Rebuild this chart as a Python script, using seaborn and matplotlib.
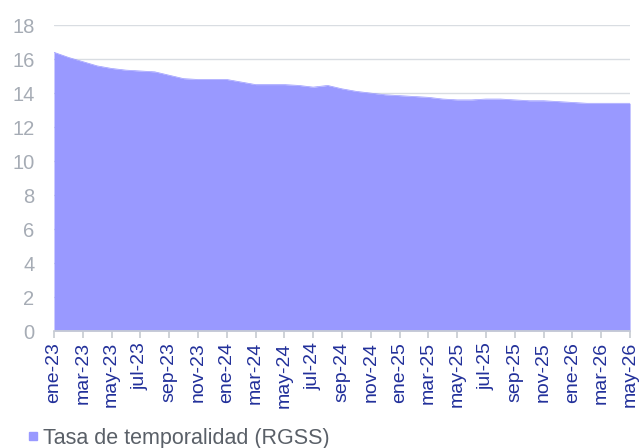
import pandas as pd
import seaborn as sns
import matplotlib.pyplot as plt
from matplotlib.lines import Line2D

meses = ['ene', 'feb', 'mar', 'abr', 'may', 'jun', 'jul', 'ago', 'sep', 'oct', 'nov', 'dic']
fechas = [f'{meses[i % 12]}-{23 + i // 12}' for i in range(41)]  # ene-23 .. may-26

# Tasa de temporalidad (RGSS), %
tasa = [16.4, 16.1, 15.85, 15.6, 15.45, 15.35, 15.3, 15.25, 15.05, 14.85,
        14.8, 14.8, 14.8, 14.65, 14.5, 14.5, 14.5, 14.45, 14.35, 14.45,
        14.25, 14.1, 14.0, 13.9, 13.85, 13.8, 13.75, 13.65, 13.6, 13.6,
        13.65, 13.65, 13.6, 13.55, 13.55, 13.5, 13.45, 13.4, 13.4, 13.4,
        13.4]

df = pd.DataFrame({'x': range(len(fechas)), 'fecha': fechas, 'tasa': tasa})

sns.set_theme(style='white')
plt.rcParams['font.family'] = ['Liberation Sans', 'DejaVu Sans']

fig = plt.figure(figsize=(6.39, 4.48), dpi=100)
ax = fig.add_axes([0.0845, 0.261, 0.9015, 0.683])

color = '#9999FF'
sns.lineplot(data=df, x='x', y='tasa', color=color, linewidth=0.5, ax=ax)
ax.fill_between(df['x'], df['tasa'], color=color, linewidth=0, zorder=2)

ax.set_xlim(0, 40)
ax.set_ylim(0, 18)
ax.set_yticks(range(0, 19, 2))
ax.set_xticks(df['x'][::2])
ax.set_xticklabels(df['fecha'][::2], rotation=90)
ax.set_xlabel('')
ax.set_ylabel('')

ax.yaxis.grid(True, color='#D9DDE2', linewidth=1, zorder=0)
ax.set_axisbelow(True)
for s in ['top', 'right', 'left']:
    ax.spines[s].set_visible(False)
ax.spines['bottom'].set_color('#C8CDD3')
ax.tick_params(axis='y', length=0, labelsize=14.5, labelcolor='#A6ACB5', pad=14)
ax.tick_params(axis='x', bottom=True, length=5, color='#C8CDD3',
               labelsize=14, labelcolor='#22309A', pad=3)

handle = Line2D([], [], marker='s', color='none', markerfacecolor=color,
                markeredgecolor=color, markersize=6)
fig.legend([handle], ['Tasa de temporalidad (RGSS)'], loc='lower left',
           bbox_to_anchor=(0.008, -0.045), frameon=False, fontsize=15.5,
           labelcolor='#5A6068', handletextpad=0.05, handlelength=0.8)

fig.savefig('out.png', dpi=100)
